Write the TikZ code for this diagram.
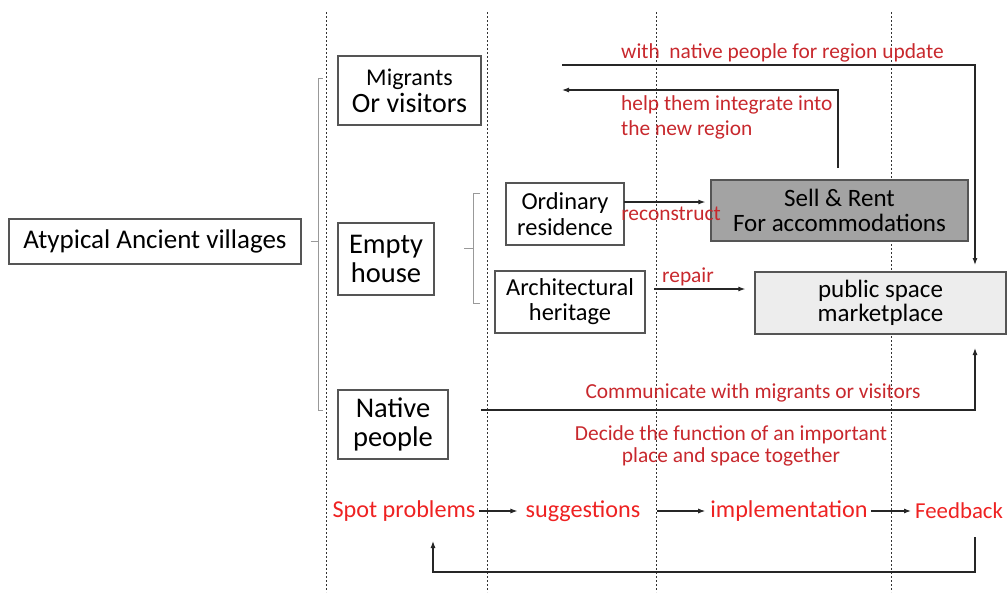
\documentclass[tikz,border=0pt]{standalone}
\usepackage{fontspec}
\setmainfont{Carlito}
\usetikzlibrary{arrows.meta,calc}
\definecolor{dred}{HTML}{C8282D}
\definecolor{bred}{HTML}{EE2222}
\definecolor{edge}{HTML}{555555}
\newcommand{\fsz}[1]{\fontsize{#1}{#1}\selectfont}
\tikzset{
  box/.style={draw=edge, line width=1.3pt, inner sep=0pt, align=center},
  lbl/.style={text=dred, inner sep=0pt, font=\fsz{21.4}},
  flow/.style={text=bred, inner sep=0pt, font=\fsz{24.2}},
  arr/.style={-{Latex[length=7pt,width=5pt]}, line width=1.1pt, draw=black!85},
  brk/.style={line width=0.9pt, draw=black!40},
  sep/.style={line width=0.9pt, draw=black!80, dash pattern=on 2pt off 2pt}
}
\begin{document}
\begin{tikzpicture}[x=1pt,y=-1pt]
\useasboundingbox (0,0) rectangle (1007,592);
% separators
\foreach \xx in {326,487,656,891}{\draw[sep] (\xx,12) -- (\xx,592);}
% boxes
\node[box, minimum width=292pt, minimum height=45pt, font=\fsz{27}] (av) at (155,241.5) {Atypical Ancient villages};
\node[box, minimum width=143pt, minimum height=69pt, font=\fontsize{28}{27}\selectfont] (mig) at (409.5,90.5) {{\fontsize{24}{24}\selectfont Migrants}\\Or visitors};
\node[box, minimum width=96pt, minimum height=72pt, font=\fontsize{28.5}{29}\selectfont] (emp) at (386,259) {Empty\\house};
\node[box, minimum width=110pt, minimum height=69pt, font=\fontsize{28.5}{29}\selectfont] (nat) at (393,424.5) {Native\\people};
\node[box, minimum width=118pt, minimum height=62pt, font=\fontsize{24.4}{26}\selectfont] (ord) at (565,214) {Ordinary\\residence};
\node[box, minimum width=150pt, minimum height=62pt, font=\fontsize{24.4}{25}\selectfont] (arch) at (570,302) {Architectural\\heritage};
\node[box, fill=black!36, minimum width=257pt, minimum height=61pt, font=\fontsize{25}{25}\selectfont] (sell) at (839.5,210.5) {Sell \& Rent\\For accommodations};
\node[box, fill=black!7, minimum width=251pt, minimum height=62pt, font=\fontsize{25}{24}\selectfont] (pub) at (880.5,303) {public space\\marketplace};
% brackets
\draw[brk] (323,78) -- (318,78) -- (318,410) -- (323,410);
\draw[brk] ([xshift=9pt]av.east) -- (av.east -| 318,0) ;
\draw[brk] (480,193) -- (473,193) -- (473,303) -- (480,303);
\coordinate (b2) at (464,248);
\draw[brk] (b2) -- (473,248);
% arrows
\coordinate (o1) at (624,202);
\draw[arr, shorten >=5pt] (o1) -- (o1 -| sell.west);
\coordinate (r1) at (654,289);
\draw[arr, shorten >=9pt] (r1) -- (r1 -| pub.west);
\coordinate (t0) at (562,65);
\coordinate (t1) at (975,65);
\coordinate (pubtop) at (975,272);
\draw[arr, shorten >=7pt] (t0) -- (t1) -- (pubtop);
\coordinate (h0) at (838,168);
\coordinate (h1) at (838,90);
\coordinate (h2) at (562,90);
\draw[arr] (h0) -- (h1) -- (h2);
\coordinate (c0) at (481,410);
\coordinate (c1) at (975,410);
\coordinate (pubbot) at (975,334);
\draw[arr, shorten >=14pt] (c0) -- (c1) -- (pubbot);
% red labels
\node[lbl, anchor=west] (l1) at (621,53) {with\ \ native people for region update};
\node[lbl, anchor=west, align=left, font=\fontsize{21.4}{25}\selectfont] (l2) at (621,117.5) {help them integrate into\\the new region};
\node[lbl] (l3) at (671,214) {reconstruct};
\node[lbl] (l4) at (688,277) {repair};
\node[lbl] (l5) at (753,393) {Communicate with migrants or visitors};
\node[lbl, align=center, font=\fontsize{21.4}{22}\selectfont] (l6) at (731,446) {Decide the function of an important\\place and space together};
% bottom flow
\node[flow] (sp) at (404,511) {Spot problems};
\node[flow] (sg) at (583,511) {suggestions};
\node[flow] (im) at (789,511) {implementation};
\node[flow, anchor=west, font=\fsz{22.8}] (fb) at (915,511) {Feedback};
\coordinate (a1) at (479,511);
\coordinate (a2) at (657,511);
\coordinate (a3) at (871,511);
\draw[arr] (a1) -- ([xshift=-8pt]sg.west);
\draw[arr] (a2) -- ([xshift=-5pt]im.west);
\draw[arr] (a3) -- ([xshift=-4pt]fb.west);
\coordinate (f0) at (975,537);
\coordinate (f1) at (975,572);
\coordinate (f2) at (433,572);
\coordinate (f3) at (433,541);
\draw[arr] (f0) -- (f1) -- (f2) -- (f3);
\end{tikzpicture}
\end{document}
